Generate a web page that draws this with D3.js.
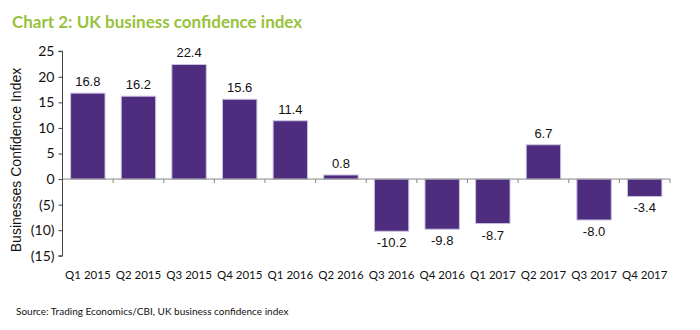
<!DOCTYPE html>
<html lang="en">
  <head>
    <meta charset="UTF-8" />
    <title>UK business confidence index</title>
    <script src="https://cdn.jsdelivr.net/npm/d3@7"></script>
    <style>
      body { margin: 0; background: #fff; }
      svg text { font-family: "Liberation Sans", Arial, sans-serif; }
    </style>
  </head>
  <body>
    <script>
      // quarterly readings of the CBI confidence index
      var quarters = ["Q1 2015", "Q2 2015", "Q3 2015", "Q4 2015", "Q1 2016", "Q2 2016",
                      "Q3 2016", "Q4 2016", "Q1 2017", "Q2 2017", "Q3 2017", "Q4 2017"];
      var confidence = [16.8, 16.2, 22.4, 15.6, 11.4, 0.8, -10.2, -9.8, -8.7, 6.7, -8.0, -3.4];
      var yTicks = [25, 20, 15, 10, 5, 0, -5, -10, -15];

      var data = quarters.map(function (q, i) {
        return { quarter: q, value: confidence[i] };
      });

      var svg = d3.select("body").append("svg")
        .attr("width", 700)
        .attr("height", 330);

      svg.append("text")
        .attr("x", 12)
        .attr("y", 28)
        .attr("fill", "#97c23c")
        .attr("font-size", 17)
        .attr("font-weight", "bold")
        .style("font-family", "Lato, sans-serif")
        .text("Chart 2: UK business confidence index");

      var x = d3.scaleBand()
        .domain(quarters)
        .range([62.5, 670])
        .paddingInner(0.32)
        .paddingOuter(0.16);

      var y = d3.scaleLinear()
        .domain([-15, 25])
        .range([255.8, 51.2]);

      // y axis, ticks on the left, negatives in brackets
      var yAxis = svg.append("g")
        .attr("transform", "translate(62.5,0)")
        .call(d3.axisLeft(y)
          .tickValues(yTicks)
          .tickSize(4)
          .tickPadding(4)
          .tickFormat(function (d) { return d < 0 ? "(" + (-d) + ")" : d; }));
      yAxis.select(".domain").attr("stroke", "#444").attr("d", "M-4,51.2H0V255.8H-4");
      yAxis.selectAll(".tick line").attr("stroke", "#444");
      yAxis.selectAll(".tick text").attr("font-size", 14).attr("fill", "#111")
        .style("font-family", "Lato, sans-serif");

      svg.append("text")
        .attr("transform", "translate(21,160) rotate(-90)")
        .attr("text-anchor", "middle")
        .attr("font-size", 14)
        .attr("fill", "#111")
        .text("Businesses Confidence Index");

      // bars
      svg.selectAll("rect.bar")
        .data(data)
        .enter()
        .append("rect")
        .attr("class", "bar")
        .attr("x", function (d) { return x(d.quarter); })
        .attr("width", x.bandwidth())
        .attr("y", function (d) { return y(Math.max(0, d.value)); })
        .attr("height", function (d) { return Math.abs(y(d.value) - y(0)); })
        .attr("fill", "#4e2c7e")
        .attr("stroke", "#cbc2e0")
        .attr("stroke-width", 1);

      // zero line with ticks at the category boundaries
      svg.append("line")
        .attr("x1", 62.5)
        .attr("x2", 670)
        .attr("y1", y(0))
        .attr("y2", y(0))
        .attr("stroke", "#888")
        .attr("stroke-width", 1);
      svg.selectAll("line.sep")
        .data(d3.range(1, quarters.length + 1))
        .enter()
        .append("line")
        .attr("class", "sep")
        .attr("x1", function (i) { return 62.5 + i * x.step(); })
        .attr("x2", function (i) { return 62.5 + i * x.step(); })
        .attr("y1", y(0))
        .attr("y2", y(0) + 4)
        .attr("stroke", "#888");

      // value labels
      svg.selectAll("text.val")
        .data(data)
        .enter()
        .append("text")
        .attr("class", "val")
        .attr("x", function (d) { return x(d.quarter) + x.bandwidth() / 2; })
        .attr("y", function (d) {
          return d.value >= 0 ? y(d.value) - 7 : y(d.value) + 16;
        })
        .attr("text-anchor", "middle")
        .attr("font-size", 13)
        .attr("fill", "#111")
        .text(function (d) { return d.value.toFixed(1); });

      // category labels along the bottom
      svg.selectAll("text.cat")
        .data(data)
        .enter()
        .append("text")
        .attr("class", "cat")
        .attr("x", function (d) { return x(d.quarter) + x.bandwidth() / 2; })
        .attr("y", 279)
        .attr("text-anchor", "middle")
        .attr("font-size", 11.5)
        .attr("fill", "#111")
        .style("font-family", "Lato, sans-serif")
        .text(function (d) { return d.quarter; });

      svg.append("text")
        .attr("x", 16)
        .attr("y", 315)
        .attr("font-size", 10)
        .attr("fill", "#111")
        .style("font-family", "Lato, sans-serif")
        .text("Source:  Trading Economics/CBI, UK business confidence index");
    </script>
  </body>
</html>
